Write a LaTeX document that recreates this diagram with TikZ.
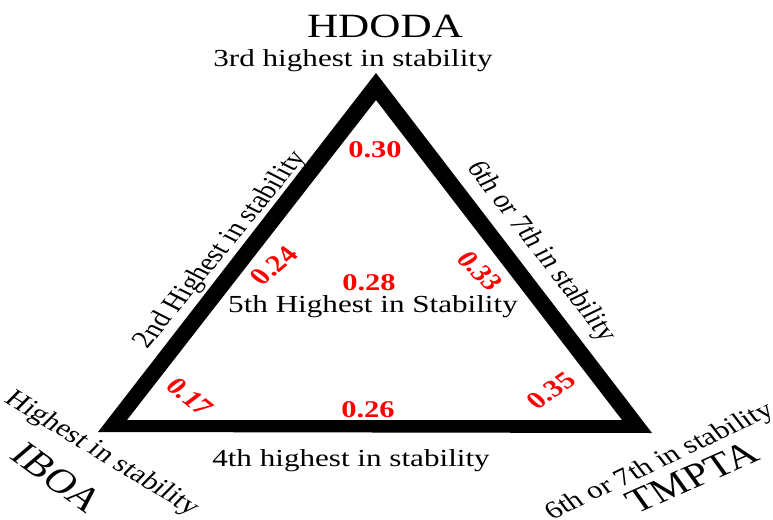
\documentclass[tikz,border=0pt]{standalone}
\usepackage{fontspec}
\setmainfont{Liberation Serif}
\begin{document}
\begin{tikzpicture}[x=1pt,y=-1pt,
  lab/.style={transform shape, inner sep=0pt, font=\fontsize{24.5}{26}\selectfont},
  big/.style={transform shape, inner sep=0pt, font=\fontsize{34}{36}\selectfont},
  num/.style={transform shape, inner sep=0pt, text=red, font=\fontsize{24}{26}\selectfont\bfseries}]
\useasboundingbox (0,0) rectangle (773,519);
% triangle frame
\coordinate (L) at (98,432);
\coordinate (T) at (376,73);
\coordinate (R) at (652,433);
\coordinate (iL) at (127,420);
\coordinate (iT) at (376,100);
\coordinate (iR) at (622,420);
\fill[black, even odd rule] (L) -- (T) -- (R) -- cycle (iL) -- (iT) -- (iR) -- cycle;
% horizontal labels
\begin{scope}[shift={(385,26)}, xscale=1.27]
  \node[big] (hdoda) at (0,0) {HDODA};
\end{scope}
\begin{scope}[shift={(353,66.7)}, xscale=1.27]
  \node[lab, anchor=base] (top) at (0,0) {3rd highest in stability};
\end{scope}
\begin{scope}[shift={(373,312)}, xscale=1.27]
  \node[lab, anchor=base] (mid) at (0,0) {5th Highest in Stability};
\end{scope}
\begin{scope}[shift={(351,466)}, xscale=1.27]
  \node[lab, anchor=base] (bot) at (0,0) {4th highest in stability};
\end{scope}
% rotated labels
\begin{scope}[shift={(221,250)}, xscale=1.27, rotate=57]
  \node[lab] (left) at (0,0) {2nd Highest in stability};
\end{scope}
\begin{scope}[shift={(541,252)}, xscale=1.27, rotate=-58.4]
  \node[lab] (right) at (0,0) {6th or 7th in stability};
\end{scope}
\begin{scope}[shift={(102,454)}, xscale=1.27, rotate=-37.8]
  \node[lab] (ibl) at (0,0) {Highest in stability};
\end{scope}
\begin{scope}[shift={(57,478)}, xscale=1.27, rotate=-42.7]
  \node[big] (iboa) at (0,0) {IBOA};
\end{scope}
\begin{scope}[shift={(660,462)}, xscale=1.27, rotate=31.2]
  \node[lab] (tml) at (0,0) {6th or 7th in stability};
\end{scope}
\begin{scope}[shift={(692,477)}, xscale=1.27, rotate=29.5]
  \node[big] (tmpta) at (0,0) {TMPTA};
\end{scope}
% numbers
\begin{scope}[shift={(375,157)}, xscale=1.27]
  \node[num, anchor=base] (n30) at (0,0) {0.30};
\end{scope}
\begin{scope}[shift={(369,290)}, xscale=1.27]
  \node[num, anchor=base] (n28) at (0,0) {0.28};
\end{scope}
\begin{scope}[shift={(368,417)}, xscale=1.27]
  \node[num, anchor=base] (n26) at (0,0) {0.26};
\end{scope}
\begin{scope}[shift={(274,266)}, xscale=1.27, rotate=46.8]
  \node[num] (n24) at (0,0) {0.24};
\end{scope}
\begin{scope}[shift={(480,271)}, xscale=1.27, rotate=-52.7]
  \node[num] (n33) at (0,0) {0.33};
\end{scope}
\begin{scope}[shift={(190,397)}, xscale=1.27, rotate=-45.8]
  \node[num] (n17) at (0,0) {0.17};
\end{scope}
\begin{scope}[shift={(551,391)}, xscale=1.27, rotate=41.1]
  \node[num] (n35) at (0,0) {0.35};
\end{scope}
\end{tikzpicture}
\end{document}
